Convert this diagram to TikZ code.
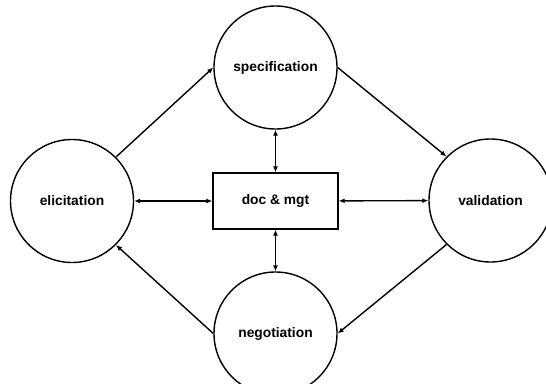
\documentclass[tikz,border=0pt]{standalone}
\usepackage{fontspec}
\setmainfont{Liberation Sans}
\usepackage{tikz}
\usetikzlibrary{positioning, arrows.meta}
\tikzset{
    phase/.style={
           circle,
           draw=black, line width=1.4pt,
           minimum size=123pt,
           inner sep=0pt,
           font=\fontsize{13.8}{16}\selectfont\bfseries,
           text centered,
           },
    hub/.style={
           rectangle,
           draw=black, line width=1.4pt,
           minimum width=125pt,
           minimum height=56pt,
           inner sep=0pt,
           font=\fontsize{13.8}{16}\selectfont\bfseries,
           },
}

\begin{document}
\begin{tikzpicture}[x=1pt,y=-1pt,->,>={Latex[length=6pt,width=5pt]},line width=1.4pt]
  \clip (0,0) rectangle (546,383);
  \node[phase] (spec) at (275.5,67.5)  {specification};
  \node[phase] (elic) at (72,201)      {elicitation};
  \node[phase] (vali) at (490.5,200.5) {validation};
  \node[phase] (nego) at (275.5,333.5) {negotiation};
  \node[hub]   (doc)  at (275.5,201)   {doc \& mgt};
  % cycle
  \draw (elic.45)  -- (spec.west);
  \draw (spec.east) -- (vali.135);
  \draw (vali.225) -- (nego.east);
  \draw (nego.west) -- (elic.-45);
  % to and from the hub
  \draw[<->] (spec) -- (doc);
  \draw[<->] (doc)  -- (nego);
  \draw[<->] (elic) -- (doc);
  \draw[<->] (doc)  -- (vali);
\end{tikzpicture}
\end{document}
